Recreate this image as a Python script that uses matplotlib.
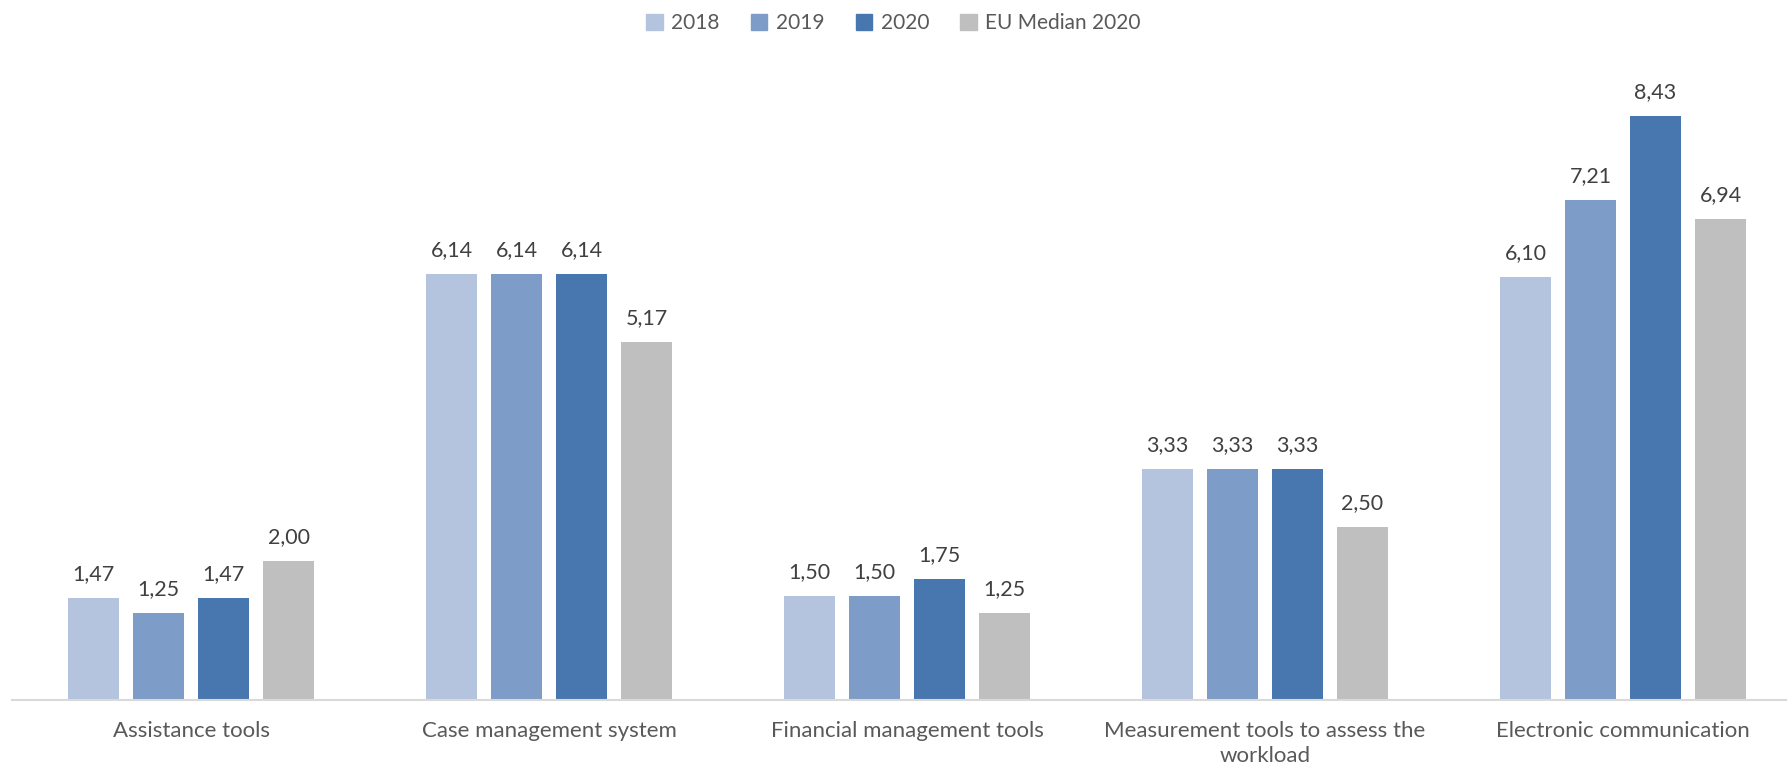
import numpy as np
import matplotlib.pyplot as plt
from matplotlib.patches import Patch

plt.rcParams['font.family'] = ['Lato', 'DejaVu Sans']

categories = ['Assistance tools', 'Case management system', 'Financial management tools',
              'Measurement tools to assess the\nworkload', 'Electronic communication']
series_names = ['2018', '2019', '2020', 'EU Median 2020']
v2018 = [1.47, 6.14, 1.50, 3.33, 6.10]
v2019 = [1.25, 6.14, 1.50, 3.33, 7.21]
v2020 = [1.47, 6.14, 1.75, 3.33, 8.43]
eu_median = [2.00, 5.17, 1.25, 2.50, 6.94]

colors = ['#b4c4df', '#7e9cc8', '#4877b0', '#bfbfbf']

fig = plt.figure(figsize=(17.87, 7.72), dpi=100)
ax = fig.add_axes([12 / 1787, 0.0933, 1775 / 1787, 0.808])

x = np.arange(len(categories))
width = 0.1425
step = 0.1816
all_series = [v2018, v2019, v2020, eu_median]
for i, (vals, c) in enumerate(zip(all_series, colors)):
    pos = x + (i - 1.5) * step
    bars = ax.bar(pos, vals, width, color=c, label=series_names[i])
    for b, v in zip(bars, vals):
        ax.annotate(f'{v:.2f}'.replace('.', ','), (b.get_x() + b.get_width() / 2, v),
                    xytext=(0, 10), textcoords='offset points', ha='center', va='bottom',
                    fontsize=15.5, color='#404040')

ax.set_xlim(-0.5, 4.458)
ax.set_ylim(0, 9)
ax.set_xticks(x)
ax.set_xticklabels(categories, fontsize=16, color='#595959', linespacing=1.35)
ax.tick_params(axis='x', length=0, pad=15)
ax.set_yticks([])
for s in ['top', 'right', 'left']:
    ax.spines[s].set_visible(False)
ax.spines['bottom'].set_color('#d9d9d9')
ax.spines['bottom'].set_linewidth(1.5)

handles = [Patch(color=c, label=n) for c, n in zip(colors, series_names)]
fig.legend(handles=handles, loc='center', bbox_to_anchor=(0.5, 0.97), ncol=4, frameon=False,
           fontsize=15, labelcolor='#595959', handlelength=0.8, handleheight=0.8,
           handletextpad=0.4, columnspacing=1.5)

fig.savefig('out.png', dpi=100)
